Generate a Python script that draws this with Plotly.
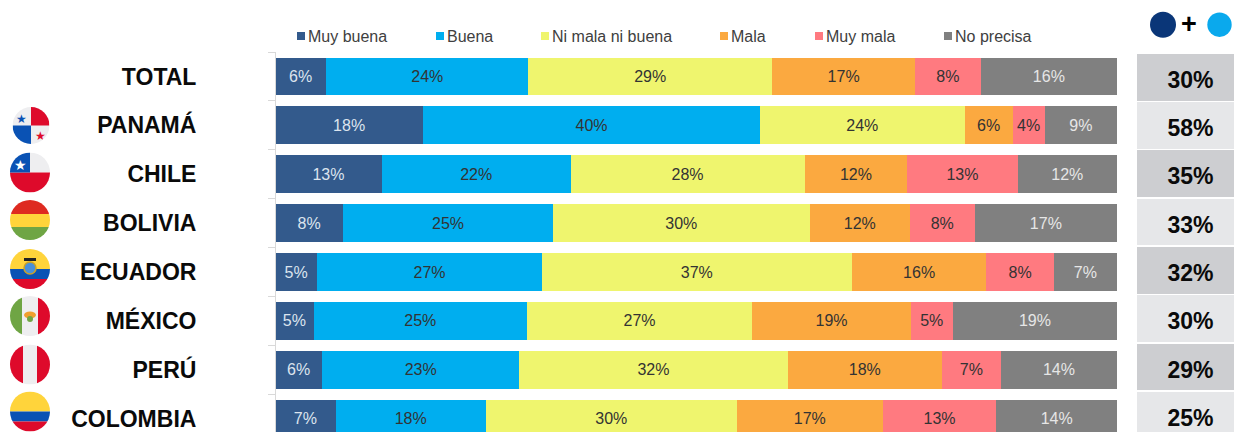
import plotly.graph_objects as go
import base64

W, H = 1234, 432
countries = ["TOTAL", "PANAMÁ", "CHILE", "BOLIVIA", "ECUADOR", "MÉXICO", "PERÚ", "COLOMBIA"]
muy_buena = [6.1, 17.6, 12.7, 8.1, 5.0, 4.6, 5.6, 7.2]
buena = [24.0, 40.0, 22.4, 24.9, 26.7, 25.3, 23.4, 17.8]
ni_mala = [29.0, 24.3, 27.8, 30.5, 36.8, 26.8, 31.9, 29.8]
mala = [17.0, 5.7, 12.2, 11.9, 16.0, 18.8, 18.3, 17.3]
muy_mala = [7.8, 3.8, 13.1, 7.7, 8.0, 5.0, 7.0, 13.5]
no_precisa = [16.2, 8.6, 11.8, 16.9, 7.5, 19.5, 13.8, 14.3]

lab_muy_buena = [6, 18, 13, 8, 5, 5, 6, 7]
lab_buena = [24, 40, 22, 25, 27, 25, 23, 18]
lab_ni_mala = [29, 24, 28, 30, 37, 27, 32, 30]
lab_mala = [17, 6, 12, 12, 16, 19, 18, 17]
lab_muy_mala = [8, 4, 13, 8, 8, 5, 7, 13]
lab_no_precisa = [16, 9, 12, 17, 7, 19, 14, 14]
top_two = [30, 58, 35, 33, 32, 30, 29, 25]

series = [
    ("Muy buena", muy_buena, lab_muy_buena, "#335A8C", "#DCE4EE"),
    ("Buena", buena, lab_buena, "#00AEEF", "#333333"),
    ("Ni mala ni buena", ni_mala, lab_ni_mala, "#EFF56E", "#333333"),
    ("Mala", mala, lab_mala, "#FBA940", "#333333"),
    ("Muy mala", muy_mala, lab_muy_mala, "#FF7A80", "#333333"),
    ("No precisa", no_precisa, lab_no_precisa, "#808080", "#E6E6E6"),
]
legend_x = [297, 436, 541, 720, 815, 944]

fig = go.Figure()
for name, vals, labs, col, tcol in series:
    fig.add_trace(go.Bar(
        y=countries, x=vals, name=name, orientation="h", width=0.775,
        marker=dict(color=col, line=dict(width=0)),
        text=[f"{v}%" for v in labs], textposition="inside",
        insidetextanchor="middle", textangle=0, constraintext="none",
        textfont=dict(family="Liberation Sans", size=16, color=tcol),
        hoverinfo="skip", showlegend=False, xaxis="x", yaxis="y",
    ))
fig.add_trace(go.Bar(
    y=countries, x=top_two, orientation="h", width=0.97,
    marker=dict(color=["#CDCED1" if i % 2 == 0 else "#E6E7E9" for i in range(8)], line=dict(width=0)),
    hoverinfo="skip", showlegend=False, xaxis="x2", yaxis="y2",
))
fig.add_trace(go.Scatter(
    y=countries, x=[50] * len(countries), mode="text",
    text=[f"<b>{v}%</b>" for v in top_two], textposition="middle center",
    textfont=dict(family="Liberation Sans", size=23, color="#0A0A0A"),
    hoverinfo="skip", showlegend=False, xaxis="x2", yaxis="y3", cliponaxis=False,
))


def svg(body):
    s = ('<svg xmlns="http://www.w3.org/2000/svg" viewBox="0 0 40 40"><defs><clipPath id="c">'
         '<circle cx="20" cy="20" r="20"/></clipPath></defs><g clip-path="url(#c)">' + body + '</g></svg>')
    return "data:image/svg+xml;base64," + base64.b64encode(s.encode()).decode()


def rect(x, y, w, h, c):
    return f'<rect x="{x}" y="{y}" width="{w}" height="{h}" fill="{c}"/>'


RED, BLUE, YEL = "#DE0A2B", "#0A52B4", "#FFD43B"
flags = [
    (31, 125.5, 18.5, rect(0, 0, 40, 40, "#EEEEF0") + rect(20, 0, 20, 20, RED) + rect(0, 20, 20, 20, BLUE)
     + '<text x="10" y="17" font-size="13" text-anchor="middle" fill="#0A52B4">★</text>'
     + '<text x="30" y="36" font-size="13" text-anchor="middle" fill="#DE0A2B">★</text>'),
    (30, 172.5, 20, rect(0, 0, 40, 20, "#EEEEF0") + rect(0, 20, 40, 20, RED) + rect(0, 0, 20, 20, "#0A52B4")
     + '<text x="10" y="17" font-size="14" text-anchor="middle" fill="#FFFFFF">★</text>'),
    (30, 220, 20, rect(0, 0, 40, 14, "#DE2A20") + rect(0, 14, 40, 13, "#FFD43B") + rect(0, 27, 40, 13, "#6FA544")),
    (30, 269, 20, rect(0, 0, 40, 20, YEL) + rect(0, 20, 40, 10, BLUE) + rect(0, 30, 40, 10, RED)
     + '<circle cx="20" cy="19" r="6" fill="#4A90D9" stroke="#C9A227" stroke-width="1.5"/>'
     + rect(14, 9, 12, 3, "#222222")),
    (30, 316, 20, rect(0, 0, 12, 40, "#6FA544") + rect(12, 0, 16, 40, "#EEEEF0") + rect(28, 0, 12, 40, RED)
     + '<ellipse cx="20" cy="19" rx="6" ry="3.5" fill="#F0A030"/><circle cx="20" cy="23" r="3" fill="#6FA544"/>'),
    (30, 364.5, 20, rect(0, 0, 13, 40, RED) + rect(13, 0, 14, 40, "#EEEEF0") + rect(27, 0, 13, 40, RED)),
    (30, 411.5, 20, rect(0, 0, 40, 20, YEL) + rect(0, 20, 40, 10, BLUE) + rect(0, 30, 40, 10, RED)),
]
images = [dict(source=svg(b), xref="paper", yref="paper", x=(cx - r) / W, y=1 - (cy - r) / H,
               sizex=2 * r / W, sizey=2 * r / H, xanchor="left", yanchor="top", sizing="stretch", layer="above")
          for cx, cy, r, b in flags]

shapes, annotations = [], []
for (name, _, _, col, _), lx in zip(series, legend_x):
    shapes.append(dict(type="rect", xref="paper", yref="paper", x0=lx / W, x1=(lx + 8) / W,
                       y0=1 - 40 / H, y1=1 - 32 / H, fillcolor=col, line_width=0))
    annotations.append(dict(text=name, xref="paper", yref="paper", x=(lx + 9) / W, y=1 - 36 / H,
                            xanchor="left", yanchor="middle", showarrow=False,
                            font=dict(family="Liberation Sans", size=16, color="#404040")))
for cx, r, c in [(1163, 13, "#0A3678"), (1219.5, 12.2, "#0AA9ED")]:
    shapes.append(dict(type="circle", xref="paper", yref="paper", x0=(cx - r) / W, x1=(cx + r) / W,
                       y0=1 - (24.7 + r) / H, y1=1 - (24.7 - r) / H, fillcolor=c, line_width=0))
annotations.append(dict(text="<b>+</b>", xref="paper", yref="paper", x=1189 / W, y=1 - 24 / H,
                        xanchor="center", yanchor="middle", showarrow=False,
                        font=dict(family="Liberation Sans", size=27, color="#000000")))

fig.update_layout(
    width=W, height=H, autosize=False, margin=dict(l=0, r=0, t=0, b=0),
    paper_bgcolor="#FFFFFF", plot_bgcolor="rgba(0,0,0,0)",
    barmode="stack", barnorm="percent",
    showlegend=False, images=images, shapes=shapes, annotations=annotations,
    xaxis=dict(domain=[275 / W, 1117 / W], range=[0, 100], visible=False, fixedrange=True),
    xaxis2=dict(domain=[1137 / W, 1], range=[0, 90.7], visible=False, anchor="y2", fixedrange=True),
    yaxis=dict(
        domain=[0, 380 / H],
        type="category", categoryorder="array", categoryarray=countries,
        range=[7.27, -0.5], anchor="free", position=275 / W, showgrid=False, zeroline=False,
        showline=True, linecolor="#D9D9D9", linewidth=1,
        ticks="outside", tickson="boundaries", ticklen=7, tickcolor="#D9D9D9",
        ticklabelstandoff=74, automargin=False, fixedrange=True,
        tickfont=dict(family="Liberation Sans", size=23, color="#0A0A0A", weight="bold"),
    ),
    yaxis2=dict(domain=[0, 379 / H], type="category", categoryorder="array", categoryarray=countries,
                range=[7.347, -0.5], visible=False, anchor="x2", fixedrange=True),
    yaxis3=dict(domain=[0, 379 / H], type="category", categoryorder="array", categoryarray=countries,
                range=[7.245, -0.602], visible=False, anchor="x2", overlaying="y2", fixedrange=True),
)
fig.write_html("out.html", config={"displayModeBar": False},
               post_script="document.body.style.margin='0';document.body.style.overflow='hidden';")
